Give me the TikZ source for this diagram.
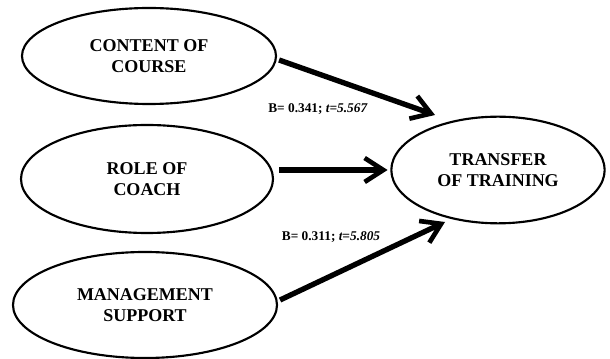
\documentclass[tikz,border=0pt]{standalone}
\usepackage{fontspec}
\setmainfont{Liberation Serif}
\usetikzlibrary{arrows.meta,shapes.geometric}

\begin{document}
\begin{tikzpicture}[x=0.75pt,y=-0.75pt,font=\bfseries\fontsize{13.5}{16}\selectfont,
  var/.style={ellipse,draw,line width=1.6pt,align=center,inner sep=0pt},
  path/.style={line width=4pt,-{Straight Barb[length=14pt,width=18pt,line width=3.5pt]}},
  coef/.style={font=\bfseries\fontsize{10}{12}\selectfont}]
\useasboundingbox (0,0) rectangle (610,359);
\node[var,minimum width=190.5pt,minimum height=72pt] (content) at (149,56) {CONTENT OF\\COURSE};
\node[var,minimum width=189pt,minimum height=81pt] (coach) at (147,179) {ROLE OF\\COACH};
\node[var,minimum width=198pt,minimum height=79.5pt] (support) at (145,305) {MANAGEMENT\\SUPPORT};
\node[var,minimum width=160pt,minimum height=80pt] (transfer) at (498,170) {TRANSFER\\OF TRAINING};
\coordinate (tipA) at (435,115);\coordinate (tipC) at (445,222);
\draw[path] ([shift={(2,4)}]content.east)--(tipA);
\draw[path] ([xshift=4pt]coach.east|-transfer.west)--([xshift=-2pt]transfer.west);
\draw[path] ([shift={(2,-5)}]support.east)--(tipC);
\node[coef] (bA) at (318,109) {B= 0.341; \textit{t=5.567}};
\node[coef] (bC) at (331,237) {B= 0.311; \textit{t=5.805}};
\end{tikzpicture}
\end{document}
